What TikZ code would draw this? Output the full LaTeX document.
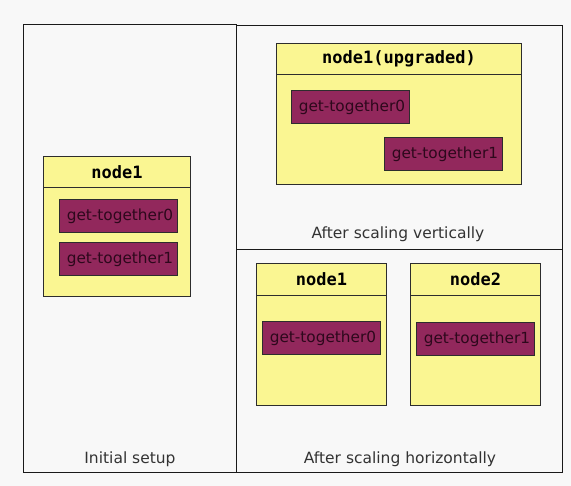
\documentclass[tikz,border=0pt]{standalone}
\usepackage{fontspec}
\setmainfont{DejaVu Sans}
\setmonofont{DejaVu Sans Mono}
\definecolor{bg}{RGB}{248,248,248}
\definecolor{hostyellow}{RGB}{250,246,146}
\definecolor{gtfill}{RGB}{146,40,92}
\definecolor{gttext}{RGB}{45,8,28}
\definecolor{edgegrey}{RGB}{45,45,45}
\begin{document}
\begin{tikzpicture}[x=1pt,y=-1pt,
  panel/.style={draw=black!90, line width=1pt},
  hostbox/.style={draw=edgegrey, fill=hostyellow, line width=1pt, rectangle, anchor=north west, inner sep=0pt},
  sepline/.style={draw=edgegrey, line width=1pt},
  hosttitle/.style={font=\fontsize{17}{18}\selectfont\ttfamily\bfseries, text=black, inner sep=0pt},
  gt/.style={draw=edgegrey, fill=gtfill, line width=0.9pt, anchor=north west, minimum width=118pt, minimum height=33pt, inner sep=0pt, font=\fontsize{15.3}{18}\selectfont, text=gttext},
  caption/.style={font=\fontsize{15.5}{18}\selectfont, text=black!80, inner sep=0pt}]

\useasboundingbox (0,0) rectangle (571,486);
\fill[bg] (0,0) rectangle (571,486);

% panels
\draw[panel] (23,25) rectangle (236,473);
\draw[panel] (236,26) -- (562,26) -- (562,473) -- (236,473);
\draw[panel] (236,250) -- (562,250);

% initial setup
\node[hostbox, minimum width=147pt, minimum height=140pt] (ha) at (43,156) {};
\draw[sepline] ([yshift=-32pt]ha.north west) coordinate (hal) -- ([yshift=-32pt]ha.north east) coordinate (har);
\node[hosttitle] (hat) at ([yshift=-16pt]ha.north) {node1};
\node[gt] (ga0) at (59,199) {\hspace{3pt}get-together0};
\node[gt] (ga1) at (59,242) {\hspace{3pt}get-together1};
\node[caption] (capa) at (130,459) {Initial setup};

% vertical scaling
\node[hostbox, minimum width=245pt, minimum height=141pt] (hb) at (276,43) {};
\draw[sepline] ([yshift=-32pt]hb.north west) coordinate (hbl) -- ([yshift=-32pt]hb.north east) coordinate (hbr);
\node[hosttitle] (hbt) at ([yshift=-16pt]hb.north) {node1(upgraded)};
\node[gt] (gb0) at (291,90) {\hspace{3pt}get-together0};
\node[gt] (gb1) at (384,137) {\hspace{3pt}get-together1};
\node[caption] (capb) at (398,234) {After scaling vertically};

% horizontal scaling
\node[hostbox, minimum width=130pt, minimum height=142pt] (hc) at (256,263) {};
\draw[sepline] ([yshift=-33pt]hc.north west) coordinate (hcl) -- ([yshift=-33pt]hc.north east) coordinate (hcr);
\node[hosttitle] (hct) at ([yshift=-16.5pt]hc.north) {node1};
\node[gt] (gc0) at (262,321) {\hspace{3pt}get-together0};

\node[hostbox, minimum width=130pt, minimum height=142pt] (hd) at (410,263) {};
\draw[sepline] ([yshift=-33pt]hd.north west) coordinate (hdl) -- ([yshift=-33pt]hd.north east) coordinate (hdr);
\node[hosttitle] (hdt) at ([yshift=-16.5pt]hd.north) {node2};
\node[gt] (gd1) at (416,322) {\hspace{3pt}get-together1};
\node[caption] (capc) at (400,459) {After scaling horizontally};
\end{tikzpicture}
\end{document}
